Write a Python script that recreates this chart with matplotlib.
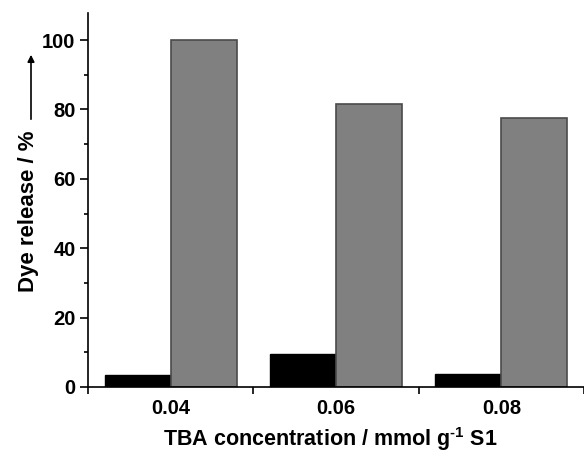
import numpy as np
import matplotlib
matplotlib.use('Agg')
import matplotlib.pyplot as plt
from matplotlib.ticker import MultipleLocator

plt.rcParams['font.family'] = ['Liberation Sans', 'DejaVu Sans']
plt.rcParams['font.weight'] = 'bold'
plt.rcParams['mathtext.fontset'] = 'custom'
plt.rcParams['mathtext.rm'] = 'Liberation Sans:bold'
plt.rcParams['mathtext.bf'] = 'Liberation Sans:bold'

# data
categories = ['0.04', '0.06', '0.08']
blank_release = [3.5, 9.5, 3.7]      # black bars
tba_release = [100.0, 81.6, 77.5]    # grey bars

fig = plt.figure(figsize=(5.84, 4.54), dpi=100)
ax = fig.add_axes([88/584, 1 - 387/454, 496/584, (387 - 13)/454])

x = np.arange(len(categories))
w = 0.4
ax.bar(x + 0.3, blank_release, width=w, color='black', edgecolor='black', linewidth=1)
ax.bar(x + 0.7, tba_release, width=w, color='#808080', edgecolor='#4a4a4a', linewidth=1.2)

ax.set_xlim(0, 496/167)
ax.set_ylim(0, 107.8)

ax.spines['top'].set_visible(False)
ax.spines['right'].set_visible(False)
for s in ['left', 'bottom']:
    ax.spines[s].set_linewidth(1.2)

ax.yaxis.set_major_locator(MultipleLocator(20))
ax.yaxis.set_minor_locator(MultipleLocator(10))
ax.tick_params(axis='y', which='major', length=6, width=1.2, labelsize=14.5, direction='out', pad=3)
ax.tick_params(axis='y', which='minor', length=3, width=1.2, direction='out')

# major ticks at group boundaries, labels at group centres
ax.set_xticks([0, 1, 2, 3])
ax.set_xticklabels([])
ax.set_xticks(x + 0.5, minor=True)
ax.set_xticklabels(categories, minor=True)
ax.tick_params(axis='x', which='major', length=5, width=1.2, direction='out')
ax.tick_params(axis='x', which='minor', length=0, labelsize=14.5, pad=9)
for lab in ax.get_yticklabels() + ax.get_xticklabels(minor=True):
    lab.set_fontweight('bold')

fig.text(330/584, 1 - 439/454, r'TBA concentration / mmol g$^{\text{-1}}$ S1',
         ha='center', va='center', fontsize=15.5, fontweight='bold')
fig.text(29/584, 1 - 211/454, 'Dye release / %', rotation=90,
         ha='center', va='center', fontsize=16, fontweight='bold')
fig.add_artist(matplotlib.patches.FancyArrowPatch(
    (31/584, 1 - 122/454), (31/584, 1 - 52/454), transform=fig.transFigure,
    arrowstyle='-|>', mutation_scale=10, color='black', linewidth=1.2))

fig.savefig('out.png', dpi=100)
